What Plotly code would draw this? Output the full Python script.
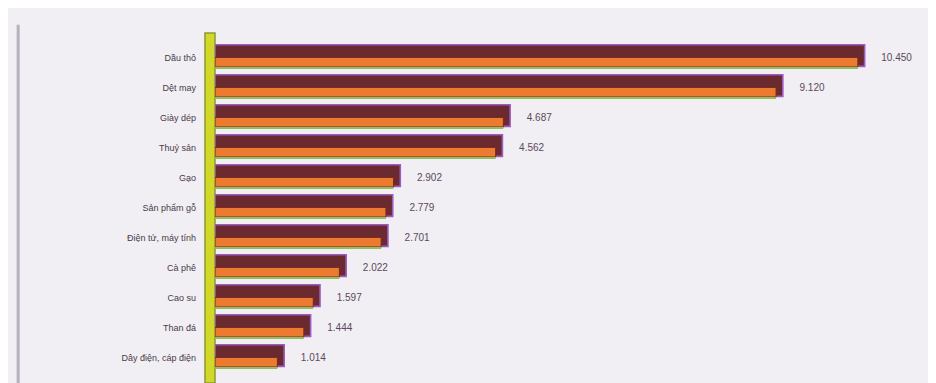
import plotly.graph_objects as go

categories = ["Dầu thô", "Dệt may", "Giày dép", "Thuỷ sản", "Gạo", "Sản phẩm gỗ",
              "Điện tử, máy tính", "Cà phê", "Cao su", "Than đá", "Dây điện, cáp điện"]
values = [10.450, 9.120, 4.687, 4.562, 2.902, 2.779, 2.701, 2.022, 1.597, 1.444, 1.014]
value_labels = ["10.450", "9.120", "4.687", "4.562", "2.902", "2.779", "2.701",
                "2.022", "1.597", "1.444", "1.014"]

ypos = list(range(len(categories)))
depth = 0.11
back_values = [v + depth for v in values]

fig = go.Figure()
# back/top face of the 3D bar
fig.add_trace(go.Bar(
    x=back_values, y=ypos, orientation="h", width=0.72, offset=-0.44,
    marker=dict(color="#6a2a30", line=dict(color="#9b5bc0", width=1.6)),
    hoverinfo="skip", showlegend=False))
# front face
fig.add_trace(go.Bar(
    x=values, y=ypos, orientation="h", width=0.32, offset=-0.02,
    marker=dict(color="#ec7a30", line=dict(color="#7a2a20", width=1)),
    hoverinfo="skip", showlegend=False))
# green bottom edge
fig.add_trace(go.Bar(
    x=values, y=ypos, orientation="h", width=0.07, offset=0.30,
    marker=dict(color="#8cc060", line=dict(width=0)),
    hoverinfo="skip", showlegend=False))
# value labels
fig.add_trace(go.Scatter(
    x=back_values, y=ypos, mode="text", text=["      " + t for t in value_labels],
    textposition="middle right",
    textfont=dict(family="Liberation Sans, Arial", size=10, color="#5a4a5a"),
    hoverinfo="skip", showlegend=False, cliponaxis=False))

fig.update_layout(
    width=928, height=375,
    margin=dict(l=207, r=0, t=35, b=10, autoexpand=False),
    paper_bgcolor="#f1eff3", plot_bgcolor="#f1eff3",
    barmode="overlay",
    xaxis=dict(range=[0, 11.72], visible=False, showgrid=False, zeroline=False),
    yaxis=dict(range=[10.5, -0.5], tickmode="array", tickvals=ypos, ticktext=categories,
               ticks="", ticklabelstandoff=18, showgrid=False, zeroline=False, automargin=False,
               tickfont=dict(family="Liberation Sans, Arial", size=9, color="#4a3a4a")),
    shapes=[
        dict(type="rect", xref="paper", yref="paper", x0=-0.0139, x1=0.0, y0=-0.03, y1=1.03,
             fillcolor="#d2d82a", line=dict(color="#8a9a30", width=1.5), layer="below"),
        dict(type="line", xref="paper", yref="paper", x0=-0.273, x1=-0.273, y0=-0.03, y1=1.055,
             line=dict(color="#b8b0bc", width=3)),
    ],
)

fig.write_html("out.html")
